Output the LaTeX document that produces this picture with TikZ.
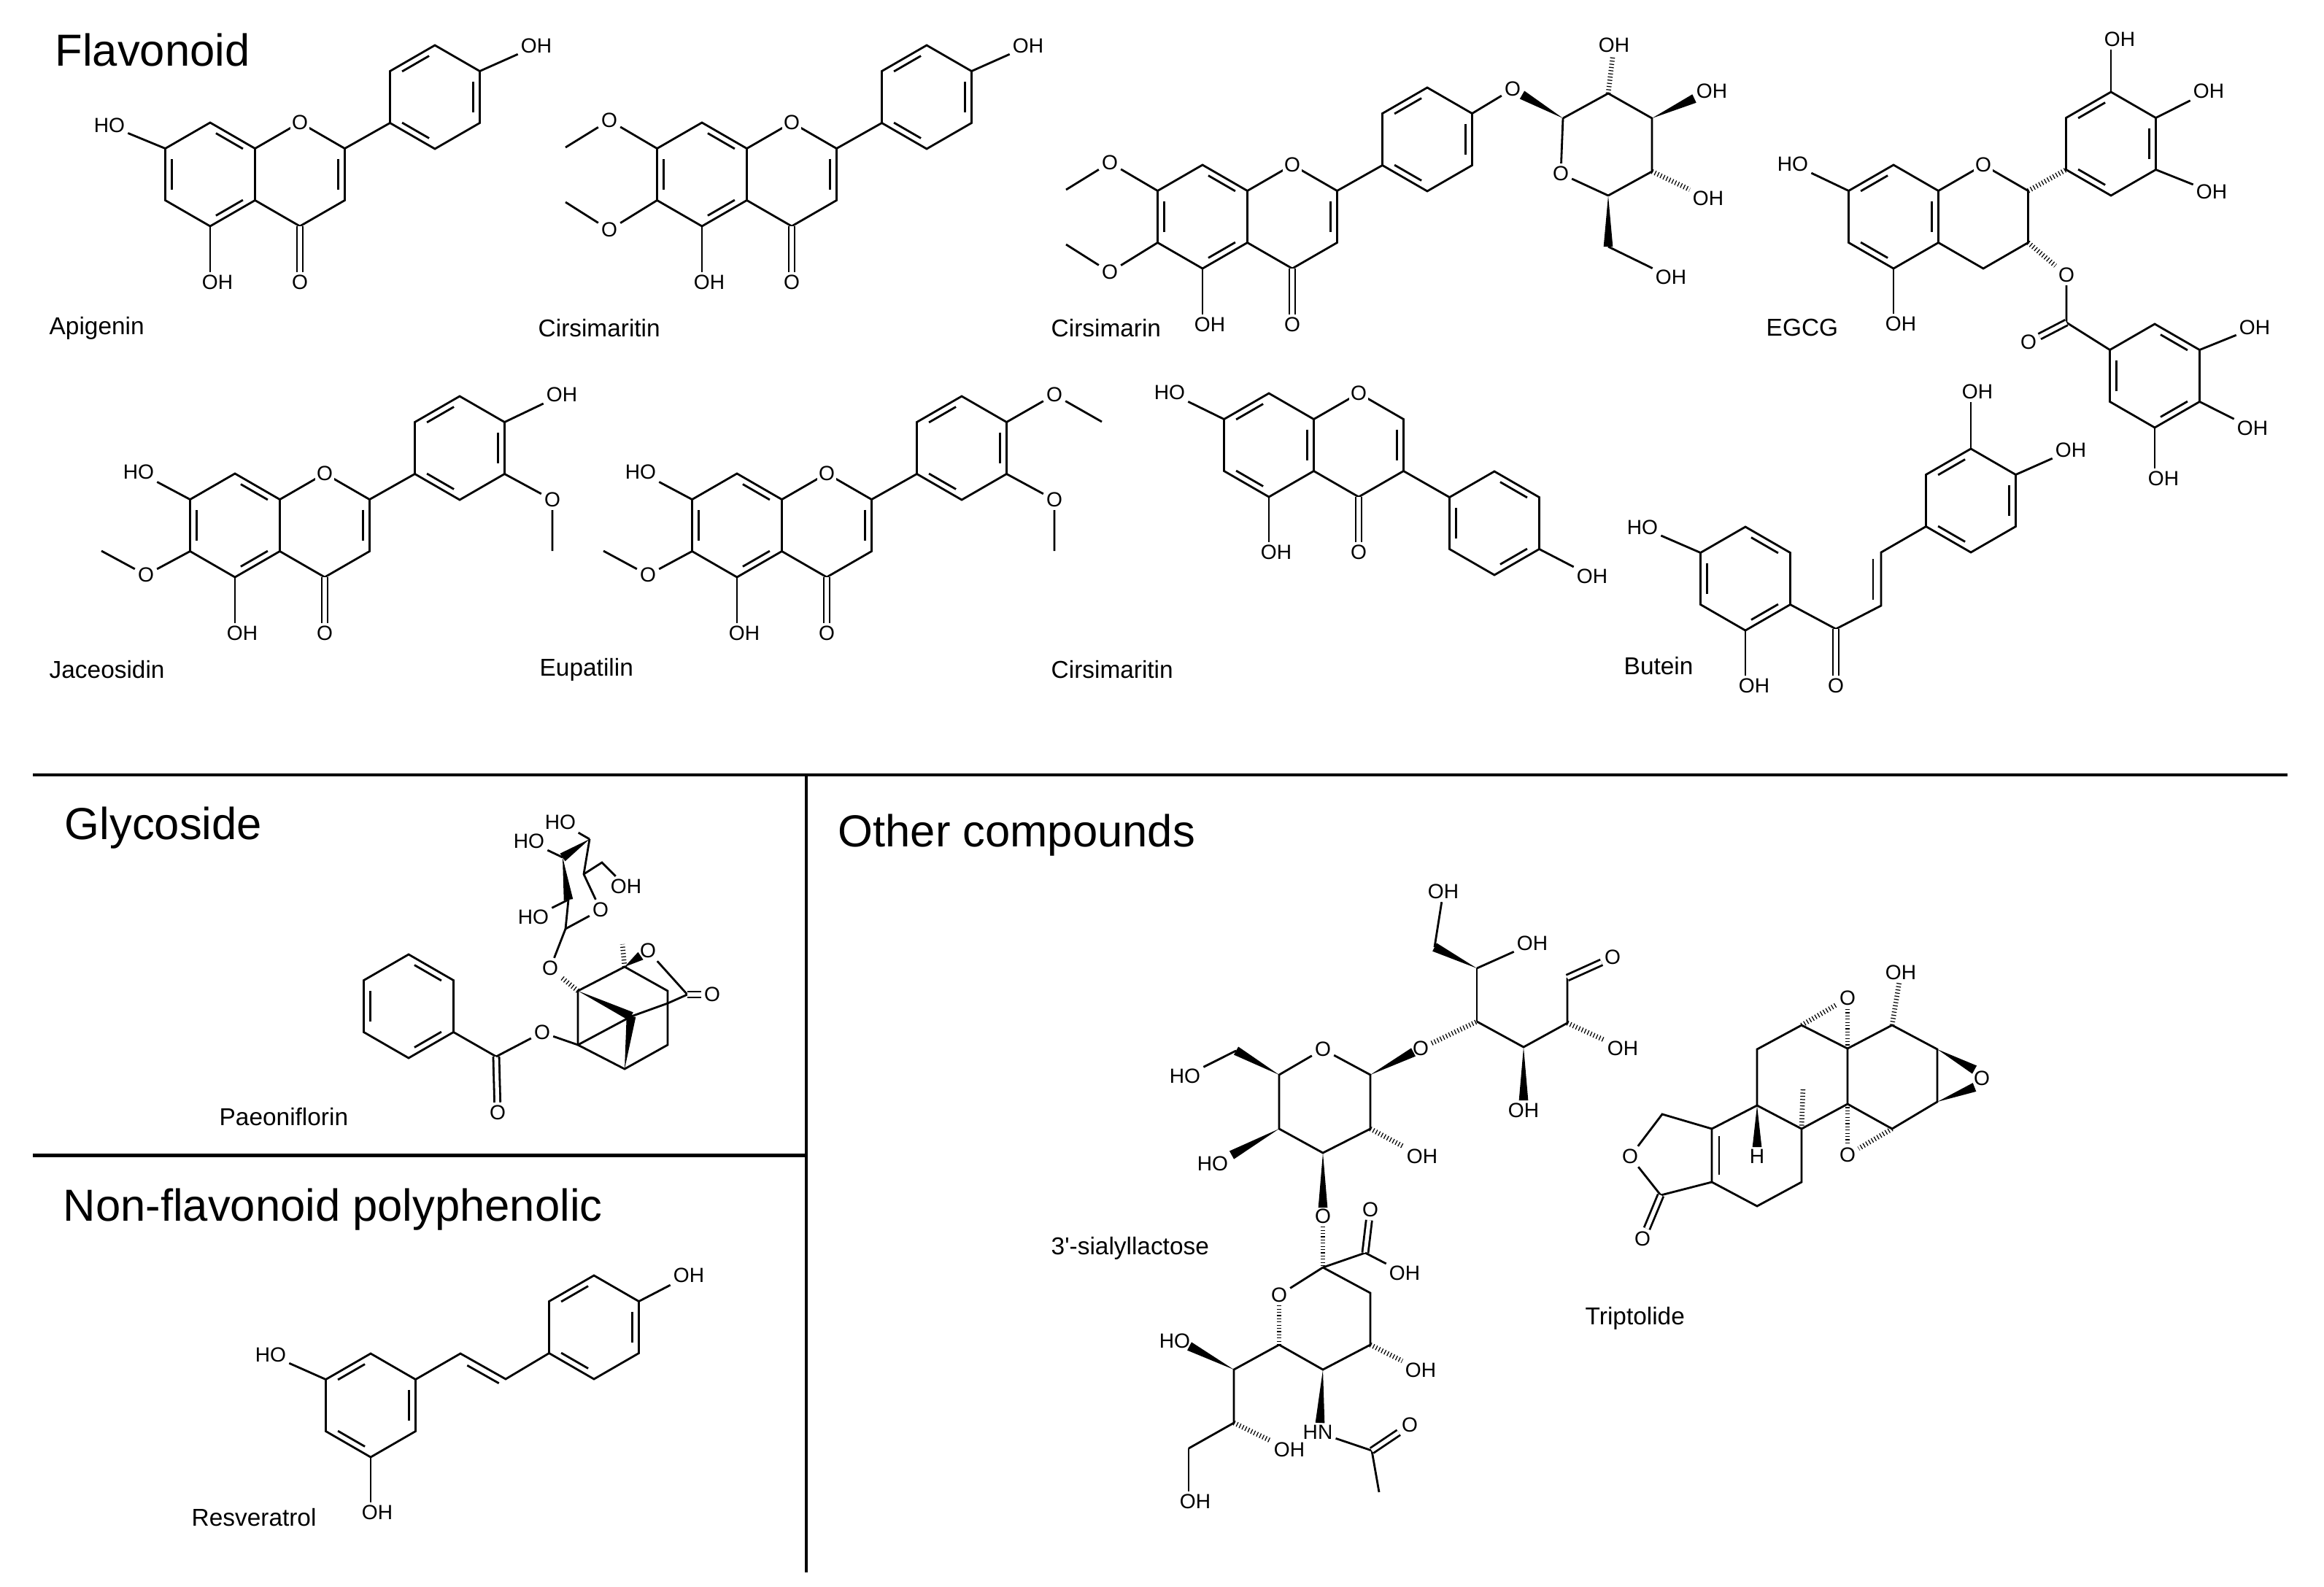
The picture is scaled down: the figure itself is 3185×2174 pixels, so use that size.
\documentclass[tikz,border=0pt]{standalone}
\usepackage{fontspec}
\setmainfont{Liberation Sans}
\newfontfamily\nomap{Liberation Sans}
\usetikzlibrary{calc}
\tikzset{
 bond/.style={line width=0.8pt},
 dblb/.style={line width=0.8pt,double,double distance=1.5pt},
 hashb/.style={line width=1.9pt,dash pattern=on 0.35pt off 0.9pt},
 atom/.style={font=\fontsize{8}{9}\selectfont,inner sep=1pt},
 ratom/.style={atom,fill=white,inner sep=0.5pt},
 lbl/.style={font=\fontsize{9.5}{11}\selectfont,anchor=west,inner sep=0pt},
 head/.style={font=\fontsize{17.5}{20}\selectfont,anchor=west,inner sep=0pt},
 divider/.style={line width=1.4pt}
}
\newcommand\ring[4]{%
 \foreach \k in {0,...,5}{\coordinate (#1-\k) at ($(#2,#3)+(#4+30+60*\k:71)$);}
 \draw[bond] (#1-0)--(#1-1)--(#1-2)--(#1-3)--(#1-4)--(#1-5)--cycle;}
\newcommand\dbl[4]{%
 \foreach \k in {#4}{\draw[bond] ($(#1,#2)+(#3+38+60*\k:57)$) -- ($(#1,#2)+(#3+82+60*\k:57)$);}}
\newcommand\wdg[2]{\fill ($(#1)$) -- ($(#2)!1.8pt!90:(#1)$) -- ($(#2)!1.8pt!-90:(#1)$) -- cycle;}
\newcommand\flav[4]{%
 \ring{#1A}{#2}{#3}{0}\dbl{#2}{#3}{0}{#4}
 \ring{#1C}{#2+123}{#3}{0}\dbl{#2+123}{#3}{0}{5}
 \ring{#1B}{#2+308}{#3-106}{0}\dbl{#2+308}{#3-106}{0}{3,5,1}
 \draw[bond] (#1C-5)--(#1B-2);
 \node[ratom] (#1O1) at (#1C-4) {O};
 \node[atom] (#1O4) at (#2+123,#3+148) {O};
 \draw[dblb] (#1C-1)--(#1O4);
 \node[atom] (#1OH5) at (#2+10,#3+148) {OH};
 \draw[bond] (#1A-1)--(#1A-1 |- #1OH5.north);
}
\begin{document}
\begin{tikzpicture}[x=0.01cm,y=-0.01cm]
\useasboundingbox (0,0) rectangle (3185,2174);
\fill[white] (0,0) rectangle (3185,2174);
% dividers
\draw[divider] (45,1062) -- (3135,1062);
\draw[divider] (1105,1062) -- (1105,2155);
\draw[divider] (45,1583) -- (1105,1583);
% headings
\node[head] (hflav) at (75,68) {Flavonoid};
\node[head] (hgly) at (88,1135) {Glycoside};
\node[head] (hnon) at (86,1658) {Non-flavonoid polyphenolic};
\node[head] (hoth) at (1148,1145) {Other compounds};
% ---------- Apigenin
\flav{ap}{288}{239}{4,2,0}
\node[atom] (apHO7) at (150,172) {HO}; \draw[bond] (apA-3)--(apHO7);
\node[atom] (apOH4) at (735,63) {OH}; \draw[bond] (apB-5)--(apOH4);
\node[lbl] (lap) at (67,450) {Apigenin};
% ---------- Cirsimaritin
\flav{cm}{962}{239}{4,2,0}
\node[atom] (cmO7) at (835,165) {O}; \draw[bond] (cmA-3)--(cmO7)--(775,202);
\node[atom] (cmO6) at (835,315) {O}; \draw[bond] (cmA-2)--(cmO6)--(775,277);
\node[atom] (cmOH4) at (1409,63) {OH}; \draw[bond] (cmB-5)--(cmOH4);
\node[lbl] (lcm) at (737,450) {Cirsimaritin};
% ---------- Cirsimarin
\flav{cn}{1648}{297}{4,2,0}
\node[atom] (cnO7) at (1521,223) {O}; \draw[bond] (cnA-3)--(cnO7)--(1461,260);
\node[atom] (cnO6) at (1521,373) {O}; \draw[bond] (cnA-2)--(cnO6)--(1461,335);
\node[atom] (cnOg) at (2073,122) {O}; \draw[bond] (cnB-5)--(cnOg);
\coordinate (g1) at (2142,162); \coordinate (g2) at (2204,128); \coordinate (g3) at (2264,162);
\coordinate (g4) at (2264,235); \coordinate (g5) at (2204,268); \coordinate (g6) at (2204,338);
\coordinate (gw) at (2086,130);
\wdg{g1}{gw}
\draw[bond] (g1)--(g2)--(g3)--(g4)--(g5);
\node[atom] (gO) at (2139,238) {O}; \draw[bond] (g5)--(gO)--(g1);
\node[atom] (gOH2) at (2212,62) {OH}; \draw[hashb] (g2)--(gOH2);
\node[atom] (gOH3) at (2346,125) {OH}; \coordinate (g3w) at (2322,135); \wdg{g3}{g3w}
\node[atom] (gOH4) at (2341,272) {OH}; \draw[hashb] (g4)--(gOH4);
\wdg{g5}{g6}
\node[atom] (gOH6) at (2290,380) {OH}; \draw[bond] (g6)--(gOH6);
\node[lbl] (lcn) at (1440,450) {Cirsimarin};
% ---------- EGCG
\ring{egA}{2595}{297}{0}\dbl{2595}{297}{0}{3,5,1}
\ring{egC}{2718}{297}{0}
\ring{egB}{2893}{197}{0}\dbl{2893}{197}{0}{3,5,1}
\ring{egG}{2953}{515}{0}\dbl{2953}{515}{0}{4,2,0}
\node[ratom] (egO1) at (egC-4) {O};
\draw[hashb] (egC-5)--(egB-2);
\node[atom] (egHO7) at (2457,225) {HO}; \draw[bond] (egA-3)--(egHO7);
\node[atom] (egOH5) at (2605,444) {OH}; \draw[bond] (egA-1)--(egA-1 |- egOH5.north);
\node[atom] (egOH3b) at (2905,54) {OH}; \draw[bond] (egB-4)--(egB-4 |- egOH3b.south);
\node[atom] (egOH4b) at (3027,125) {OH}; \draw[bond] (egB-5)--(egOH4b);
\node[atom] (egOH5b) at (3031,263) {OH}; \draw[bond] (egB-0)--(egOH5b);
\node[atom] (egOe) at (2832,377) {O}; \draw[hashb] (egC-0)--(egOe);
\coordinate (egCc) at (2832,442);
\draw[bond] (egOe)--(egCc)--(egG-3);
\node[atom] (egOc) at (2780,469) {O}; \draw[dblb] (egCc)--(egOc);
\node[atom] (egOHg1) at (3090,449) {OH}; \draw[bond] (egG-5)--(egOHg1);
\node[atom] (egOHg2) at (3087,587) {OH}; \draw[bond] (egG-0)--(egOHg2);
\node[atom] (egOHg3) at (2965,656) {OH}; \draw[bond] (egG-1)--(egG-1 |- egOHg3.north);
\node[lbl] (leg) at (2420,449) {EGCG};
% ---------- Jaceosidin
\flav{ja}{322}{720}{4,2,0}
\node[atom] (jaHO7) at (190,647) {HO}; \draw[bond] (jaA-3)--(jaHO7);
\node[atom] (jaO6) at (200,788) {O}; \draw[bond] (jaA-2)--(jaO6)--(139,755);
\node[atom] (jaOH4) at (770,541) {OH}; \draw[bond] (jaB-5)--(jaOH4);
\node[atom] (jaO3) at (757,685) {O}; \draw[bond] (jaB-0)--(jaO3)--(757,755);
\node[lbl] (lja) at (67,918) {Jaceosidin};
% ---------- Eupatilin
\flav{eu}{1010}{720}{4,2,0}
\node[atom] (euHO7) at (878,647) {HO}; \draw[bond] (euA-3)--(euHO7);
\node[atom] (euO6) at (888,788) {O}; \draw[bond] (euA-2)--(euO6)--(827,755);
\node[atom] (euO4) at (1445,541) {O}; \draw[bond] (euB-5)--(euO4)--(1510,578);
\node[atom] (euO3) at (1445,685) {O}; \draw[bond] (euB-0)--(euO3)--(1445,755);
\node[lbl] (leu) at (739,918) {Eupatilin};
% ---------- Isoflavone (second Cirsimaritin)
\ring{isA}{1739}{610}{0}\dbl{1739}{610}{0}{3,5,1}
\ring{isC}{1862}{610}{0}\dbl{1862}{610}{0}{5}
\ring{isB}{2048}{717}{0}\dbl{2048}{717}{0}{4,2,0}
\node[ratom] (isO1) at (isC-4) {O};
\draw[bond] (isC-0)--(isB-3);
\node[atom] (isO4) at (1862,757) {O}; \draw[dblb] (isC-1)--(isO4);
\node[atom] (isHO7) at (1603,538) {HO}; \draw[bond] (isA-3)--(isHO7);
\node[atom] (isOH5) at (1749,757) {OH}; \draw[bond] (isA-1)--(isA-1 |- isOH5.north);
\node[atom] (isOH4) at (2182,790) {OH}; \draw[bond] (isB-0)--(isOH4);
\node[lbl] (lis) at (1440,918) {Cirsimaritin};
% ---------- Butein
\ring{buA}{2392}{793}{0}\dbl{2392}{793}{0}{4,2,0}
\ring{buB}{2701}{686}{0}\dbl{2701}{686}{0}{3,5,1}
\node[atom] (buHO4) at (2251,723) {HO}; \draw[bond] (buA-3)--(buHO4);
\node[atom] (buOH2) at (2404,940) {OH}; \draw[bond] (buA-1)--(buA-1 |- buOH2.north);
\coordinate (buC) at (2516,862); \coordinate (buCa) at (2578,830); \coordinate (buCb) at (2578,757);
\draw[bond] (buA-0)--(buC)--(buCa)--(buCb)--(buB-2);
\draw[bond] (2567,822)--(2567,766);
\node[atom] (buO) at (2516,940) {O}; \draw[dblb] (buC)--(buO);
\node[atom] (buOH3) at (2710,537) {OH}; \draw[bond] (buB-4)--(buB-4 |- buOH3.south);
\node[atom] (buOH4) at (2838,617) {OH}; \draw[bond] (buB-5)--(buOH4);
\node[lbl] (lbu) at (2225,913) {Butein};
% ---------- Paeoniflorin
\ring{pbz}{560}{1379}{0}\dbl{560}{1379}{0}{4,2,0}
\coordinate (pCb) at (680,1448);
\draw[bond] (pbz-0)--(pCb);
\node[atom] (pOc) at (682,1525) {O}; \draw[dblb] (pCb)--(pOc);
\node[atom] (pOe) at (743,1415) {O};
\coordinate (P1) at (792,1358); \coordinate (P2) at (856,1325); \coordinate (P3) at (915,1358);
\coordinate (P4) at (915,1432); \coordinate (P5) at (856,1465); \coordinate (P6) at (792,1432);
\coordinate (P7) at (865,1393); \coordinate (PQ) at (915,1375);
\draw[bond] (pCb)--(pOe)--(P6);
\draw[bond] (P1)--(P2)--(P3)--(P4)--(P5)--(P6)--cycle;
\draw[bond] (P6)--(P7)--(PQ);
\wdg{P1}{P7}\wdg{P5}{P7}
\node[atom] (pOl) at (888,1303) {O}; \coordinate (pOlw) at (878,1310); \wdg{P2}{pOlw}
\coordinate (pCk) at (942,1363);
\draw[bond] (pOl)--(pCk)--(PQ);
\node[atom] (pOk) at (976,1363) {O}; \draw[dblb] (pCk)--(pOk);
\draw[hashb] (P2)--(853,1294);
\node[atom] (pOg) at (754,1327) {O}; \draw[hashb] (P1)--(pOg);
\coordinate (S1) at (775,1273); \coordinate (S2) at (779,1233); \coordinate (S3) at (771,1175);
\coordinate (S4) at (808,1150); \coordinate (S5) at (800,1198); \coordinate (S6) at (825,1182);
\draw[bond] (pOg)--(S1);
\node[atom] (pOr) at (823,1247) {O};
\draw[bond] (S1)--(pOr)--(S5)--(S4);
\wdg{S4}{S3}\wdg{S3}{S2}
\draw[bond] (S2)--(S1);
\node[atom] (pHO3) at (725,1153) {HO}; \draw[bond] (S3)--(pHO3);
\node[atom] (pHO4) at (768,1127) {HO}; \draw[bond] (S4)--(pHO4);
\node[atom] (pOH6) at (858,1215) {OH}; \draw[bond] (S5)--(S6)--(pOH6);
\node[atom] (pHO2) at (731,1257) {HO}; \draw[bond] (S2)--(pHO2);
\node[lbl] (lpa) at (300,1531) {Paeoniflorin};
% ---------- Resveratrol
\ring{rsA}{508}{1926}{0}\dbl{508}{1926}{0}{3,5,1}
\ring{rsB}{814}{1819}{0}\dbl{814}{1819}{0}{3,5,1}
\coordinate (rCa) at (631,1855); \coordinate (rCb) at (693,1890);
\draw[bond] (rsA-5)--(rCa)--(rCb)--(rsB-2);
\draw[bond] ($(rCa)!0.15!(rCb)+(0,11)$)--($(rCa)!0.85!(rCb)+(0,11)$);
\node[atom] (rHO) at (371,1857) {HO}; \draw[bond] (rsA-3)--(rHO);
\node[atom] (rOH) at (517,2073) {OH}; \draw[bond] (rsA-1)--(rsA-1 |- rOH.north);
\node[atom] (rOH4) at (944,1748) {OH}; \draw[bond] (rsB-5)--(rOH4);
\node[lbl] (lrs) at (262,2080) {Resveratrol};
% ---------- 3'-sialyllactose
\coordinate (L1) at (1878,1473); \coordinate (L2) at (1878,1547); \coordinate (L3) at (1813,1580);
\coordinate (L4) at (1753,1547); \coordinate (L5) at (1753,1473); \coordinate (L6) at (1694,1440);
\node[atom] (LO) at (1813,1438) {O};
\draw[bond] (LO)--(L1)--(L2)--(L3)--(L4)--(L5)--(LO);
\wdg{L5}{L6}
\node[atom] (LHO6) at (1624,1475) {HO}; \draw[bond] (L6)--(LHO6);
\node[atom] (LHO4) at (1662,1595) {HO}; \coordinate (L4w) at (1688,1583); \wdg{L4}{L4w}
\node[atom] (LOH2) at (1949,1585) {OH}; \draw[hashb] (L2)--(LOH2);
\node[atom] (LOg3) at (1813,1667) {O}; \coordinate (L3w) at (1813,1655); \wdg{L3}{L3w}
\node[atom] (LOg1) at (1947,1437) {O}; \coordinate (L1w) at (1937,1442); \wdg{L1}{L1w}
\coordinate (D4) at (2024,1400); \coordinate (D5) at (2024,1327); \coordinate (D6) at (1966,1298);
\coordinate (D3) at (2088,1435); \coordinate (D2) at (2148,1402); \coordinate (D1) at (2148,1340);
\draw[hashb] (LOg1)--(D4);
\draw[bond] (D4)--(D5); \wdg{D5}{D6}
\node[atom] (DOH6) at (1978,1222) {OH}; \draw[bond] (D6)--(DOH6);
\node[atom] (DOH5) at (2100,1293) {OH}; \draw[bond] (D5)--(DOH5);
\draw[bond] (D4)--(D3)--(D2)--(D1);
\node[atom] (DOH3) at (2088,1522) {OH}; \coordinate (D3w) at (2088,1508); \wdg{D3}{D3w}
\node[atom] (DOH2) at (2224,1437) {OH}; \draw[hashb] (D2)--(DOH2);
\node[atom] (DO1) at (2210,1312) {O}; \draw[dblb] (D1)--(DO1);
% sialic acid
\coordinate (T2) at (1813,1737); \coordinate (Tc) at (1871,1717); \coordinate (T3) at (1878,1772);
\coordinate (T4) at (1878,1843); \coordinate (T5) at (1813,1877); \coordinate (T6) at (1753,1843);
\coordinate (T7) at (1691,1877); \coordinate (T8) at (1691,1950); \coordinate (T9) at (1629,1985);
\coordinate (Tn) at (1880,1988);
\draw[hashb] (LOg3)--(T2);
\draw[bond] (T2)--(Tc);
\node[atom] (TOc) at (1878,1658) {O}; \draw[dblb] (Tc)--(TOc);
\node[atom] (TOHc) at (1925,1745) {OH}; \draw[bond] (Tc)--(TOHc);
\node[atom] (TO) at (1753,1775) {O};
\draw[bond] (T2)--(TO); \draw[hashb] (TO)--(T6);
\draw[bond] (T6)--(T5)--(T4)--(T3)--(T2);
\node[atom] (TOH4) at (1947,1878) {OH}; \draw[hashb] (T4)--(TOH4);
\node[atom] (THN) at (1806,1963) {HN}; \coordinate (T5w) at (1809,1950); \wdg{T5}{T5w}
\draw[bond] (THN)--(Tn)--(1890,2045);
\node[atom] (TOn) at (1932,1953) {O}; \draw[dblb] (Tn)--(TOn);
\draw[bond] (T6)--(T7)--(T8)--(T9);
\node[atom] (THO7) at (1610,1838) {HO}; \coordinate (T7w) at (1630,1845); \wdg{T7}{T7w}
\node[atom] (TOH8) at (1767,1987) {OH}; \draw[hashb] (T8)--(TOH8);
\node[atom] (TOH9) at (1638,2058) {OH}; \draw[bond] (T9)--(T9 |- TOH9.north);
\node[lbl] (lsl) at (1440,1711) {\nomap 3'-sialyllactose};
% ---------- Triptolide
\coordinate (ta) at (2278,1527); \coordinate (tk1) at (2276,1638); \coordinate (tb) at (2346,1620);
\coordinate (tc) at (2346,1547); \coordinate (td) at (2408,1515); \coordinate (te) at (2469,1547);
\coordinate (tf) at (2469,1620); \coordinate (tg) at (2408,1653); \coordinate (th) at (2408,1438);
\coordinate (ti) at (2469,1405); \coordinate (tj) at (2532,1437); \coordinate (tk) at (2532,1513);
\coordinate (tl) at (2593,1405); \coordinate (tm) at (2655,1438); \coordinate (tn) at (2655,1510);
\coordinate (tp) at (2593,1547);
\node[atom] (tOl) at (2234,1585) {O};
\draw[bond] (tc)--(ta)--(tOl)--(tk1)--(tb);
\node[atom] (tOx) at (2251,1698) {O}; \draw[dblb] (tk1)--(tOx);
\draw[bond] (tb)--(tc)--(td)--(te)--(tf)--(tg)--(tb);
\draw[bond] (2356,1557)--(2356,1610);
\draw[bond] (td)--(th)--(ti)--(tj)--(tk)--(te);
\draw[bond] (tj)--(tl)--(tm)--(tn)--(tp)--(tk);
\node[atom] (tH) at (2408,1585) {H}; \coordinate (tHw) at (2408,1572); \wdg{td}{tHw}
\draw[hashb] (te)--(2471,1490);
\node[atom] (tOH) at (2605,1333) {OH}; \draw[hashb] (tl)--(tOH);
\node[atom] (tO1) at (2716,1478) {O};
\coordinate (tO1a) at (2706,1466); \coordinate (tO1b) at (2706,1490);
\wdg{tm}{tO1a}\wdg{tn}{tO1b}
\node[atom] (tO2) at (2532,1368) {O}; \draw[hashb] (ti)--(tO2); \draw[hashb] (tj)--(tO2);
\node[atom] (tO3) at (2532,1583) {O}; \draw[hashb] (tk)--(tO3); \draw[hashb] (tp)--(tO3);
\node[lbl] (ltr) at (2172,1807) {Triptolide};
\end{tikzpicture}
\end{document}
